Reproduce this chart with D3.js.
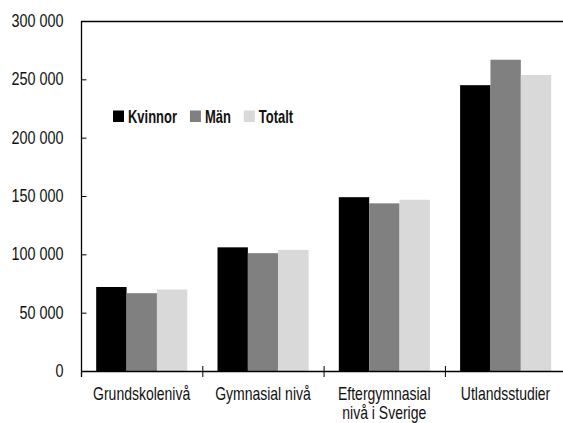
<!DOCTYPE html>
<html>
<head>
<meta charset="utf-8">
<script src="https://cdn.jsdelivr.net/npm/d3@7"></script>
<style>
  body { margin: 0; background: #fff; }
  text { font-family: 'Liberation Sans', Arial, sans-serif; fill: #111; }
</style>
</head>
<body>
<div id="chart"></div>
<script>
let categories = ['Grundskolenivå', 'Gymnasial nivå', 'Eftergymnasial\nnivå i Sverige', 'Utlandsstudier']
let seriesNames = ['Kvinnor', 'Män', 'Totalt']
let kvinnor = [72000, 106000, 149000, 245000]
let man = [66700, 101000, 143700, 266800]
let totalt = [69800, 103800, 146800, 253700]
let yTicks = [0, 50000, 100000, 150000, 200000, 250000, 300000]
let colors = ['#000000', '#808080', '#d9d9d9']

let margin = { top: 21, left: 81, right: 0, bottom: 52 }
let width = 563
let height = 423

// the original font is a narrow gothic, so squeeze Liberation Sans sideways
let squeeze = 0.8
let squeezeBold = 0.72

let svg = d3
  .select('#chart')
  .append('svg')
  .attr('width', width)
  .attr('height', height)

let values = [kvinnor, man, totalt]
let datapoints = []
categories.forEach((c, i) => {
  seriesNames.forEach((s, j) => {
    datapoints.push({ category: c, series: s, value: values[j][i] })
  })
})

let xPositionScale = d3
  .scaleBand()
  .domain(categories)
  .range([margin.left, margin.left + 4 * 121.3])

let groupScale = d3
  .scaleBand()
  .domain(seriesNames)
  .range([15.2, 121.3 - 15])

let yPositionScale = d3
  .scaleLinear()
  .domain([0, 300000])
  .range([height - margin.bottom, margin.top])

let colorScale = d3.scaleOrdinal().domain(seriesNames).range(colors)

// bars
svg
  .selectAll('.bar')
  .data(datapoints)
  .enter()
  .append('rect')
  .attr('class', 'bar')
  .attr('x', d => xPositionScale(d.category) + groupScale(d.series))
  .attr('width', groupScale.bandwidth())
  .attr('y', d => yPositionScale(d.value))
  .attr('height', d => yPositionScale(0) - yPositionScale(d.value))
  .attr('fill', d => colorScale(d.series))

// top frame line
svg
  .append('line')
  .attr('x1', margin.left)
  .attr('x2', width)
  .attr('y1', yPositionScale(300000) + 0.5)
  .attr('y2', yPositionScale(300000) + 0.5)
  .attr('stroke', '#000')
  .attr('stroke-width', 1.3)

// y axis
let yAxis = d3
  .axisRight(yPositionScale)
  .tickValues(yTicks)
  .tickSize(5)
  .tickFormat('')
svg
  .append('g')
  .attr('class', 'y-axis')
  .attr('transform', 'translate(' + (margin.left + 0.5) + ',0)')
  .call(yAxis)
svg.select('.y-axis .domain').remove()
svg.selectAll('.y-axis .tick line').attr('stroke', '#000')

svg
  .append('line')
  .attr('x1', margin.left + 0.5)
  .attr('x2', margin.left + 0.5)
  .attr('y1', margin.top)
  .attr('y2', yPositionScale(0) + 6)
  .attr('stroke', '#000')
  .attr('stroke-width', 1.3)

svg
  .selectAll('.y-label')
  .data(yTicks)
  .enter()
  .append('text')
  .attr('class', 'y-label')
  .attr('transform', d => 'translate(63.5,' + (yPositionScale(d) + 6) + ') scale(' + squeeze + ',1)')
  .attr('text-anchor', 'end')
  .attr('font-size', 18)
  .text(d => d3.format(',')(d).replace(/,/g, ' '))

// x axis
svg
  .append('line')
  .attr('x1', margin.left)
  .attr('x2', width)
  .attr('y1', yPositionScale(0) + 0.5)
  .attr('y2', yPositionScale(0) + 0.5)
  .attr('stroke', '#000')
  .attr('stroke-width', 1.3)

svg
  .selectAll('.x-tick')
  .data(categories.slice(1))
  .enter()
  .append('line')
  .attr('class', 'x-tick')
  .attr('x1', d => xPositionScale(d) + 0.5)
  .attr('x2', d => xPositionScale(d) + 0.5)
  .attr('y1', yPositionScale(0) - 5)
  .attr('y2', yPositionScale(0) + 6)
  .attr('stroke', '#000')

svg
  .selectAll('.x-label')
  .data(categories)
  .enter()
  .append('text')
  .attr('class', 'x-label')
  .attr('text-anchor', 'middle')
  .attr('font-size', 17.5)
  .attr('transform', d => 'translate(' + (xPositionScale(d) + xPositionScale.bandwidth() / 2) + ',400) scale(' + squeeze + ',1)')
  .each(function (d) {
    d3.select(this)
      .selectAll('tspan')
      .data(d.split('\n'))
      .enter()
      .append('tspan')
      .attr('x', 0)
      .attr('dy', (l, i) => (i === 0 ? 0 : 19))
      .text(l => l)
  })

// legend
let legend = svg.append('g').attr('transform', 'translate(113,110.5)')
let legendX = 0
seriesNames.forEach(s => {
  legend
    .append('rect')
    .attr('x', legendX)
    .attr('y', 0)
    .attr('width', 11)
    .attr('height', 11.5)
    .attr('fill', colorScale(s))
  let t = legend
    .append('text')
    .attr('transform', 'translate(' + (legendX + 15) + ',12.3) scale(' + squeezeBold + ',1)')
    .attr('font-size', 18)
    .attr('font-weight', 'bold')
    .attr('fill', '#000')
    .text(s)
  legendX = legendX + 15 + t.node().getComputedTextLength() * squeezeBold + 13
})
</script>
</body>
</html>
